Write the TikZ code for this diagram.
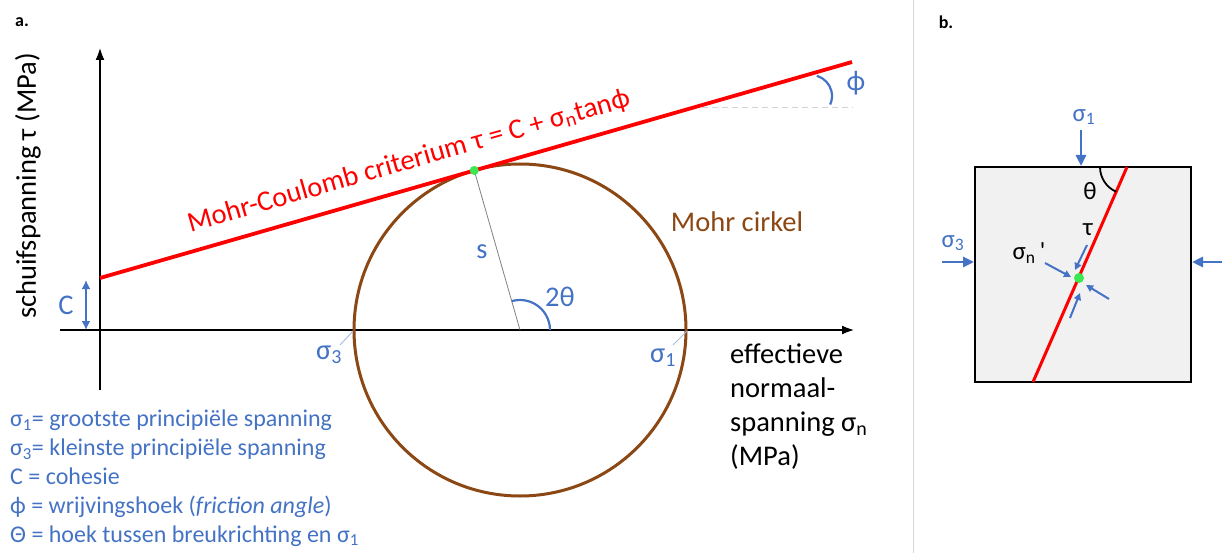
\documentclass[tikz,border=0pt]{standalone}
\usepackage{fontspec}
\setmainfont{Carlito}
\usetikzlibrary{arrows.meta,calc}
\definecolor{myblue}{RGB}{68,114,196}
\definecolor{lightblue}{RGB}{170,190,228}
\definecolor{mybrown}{RGB}{140,72,20}
\definecolor{boxgray}{RGB}{241,241,241}
\definecolor{divgray}{RGB}{215,215,215}
\definecolor{mygreen}{RGB}{60,232,80}
\newcommand\sbs[1]{\textsubscript{#1}}
\begin{document}
\begin{tikzpicture}[x=1pt,y=1pt,
  big/.style={font=\fontsize{28.5}{34}\selectfont},
  mid/.style={font=\fontsize{25}{30}\selectfont},
  axis/.style={line width=2.8,-{Latex[length=13,width=9]}},
  bluearr/.style={myblue,line width=2,-{Triangle[length=7,width=7]}},
  sigarr/.style={myblue,line width=2.8,-{Triangle[length=11,width=10]}},
  lbl/.style={inner sep=0}]
\useasboundingbox (0,0) rectangle (1222,-553);
% panel labels and divider
\node[font=\bfseries\fontsize{18}{20}\selectfont] (la) at (22,-22) {a.};
\node[font=\bfseries\fontsize{18}{20}\selectfont] (lb) at (946,-22) {b.};
\coordinate (dtop) at (913,0); \coordinate (dbot) at (913,-553);
\draw[divgray,line width=1] (dtop) -- (dbot);
% axes
\coordinate (O) at (100,-330);
\coordinate (ytop) at (100,-47); \coordinate (ybot) at (100,-390);
\coordinate (xl) at (60,-330); \coordinate (xr) at (855,-330);
\draw[axis] (ybot) -- (ytop);
\draw[axis] (xl) -- (xr);
\node[big,rotate=90] (ylab) at (28,-186) {schuifspanning τ (MPa)};
\node[big,anchor=north west,align=left,inner sep=0] (xlab) at (730,-344)
  {effectieve\\normaal-\\spanning σ\sbs{n}\\(MPa)};
% Mohr circle
\coordinate (M) at (520,-330);
\draw[mybrown,line width=3] (M) circle[radius=166];
\node[big,text=mybrown] (mc) at (737,-222) {Mohr cirkel};
% failure envelope
\coordinate (P0) at (100,-278); \coordinate (P1) at (852,-62);
\draw[red,line width=3.8] (P0) -- (P1);
\node[big,text=red,rotate=16,anchor=base,inner sep=0] (mcl) at (411,-169)
  {Mohr-Coulomb criterium τ = C + σ\sbs{n}tanϕ};
% tangent radius
\coordinate (T) at ($(M)+(106:166)$);
\draw[gray,line width=0.8] (M) -- (T);
\node[circle,fill=mygreen,inner sep=0,minimum size=9] (Tdot) at (T) {};
\draw[myblue,line width=2.2] ($(M)+(0:30)$) arc[start angle=0,end angle=106,radius=30];
\node[big,text=myblue] (twoth) at (560,-297) {2θ};
\node[big,text=myblue] (s) at (482,-252) {s};
% cohesion
\coordinate (c1) at (86,-280); \coordinate (c2) at (86,-330);
\draw[myblue,line width=2.2,{Latex[length=9,width=9]}-{Latex[length=9,width=9]}] (c1) -- (c2);
\node[big,text=myblue] (C) at (66,-305) {C};
% sigma labels
\node[big,text=myblue] (s3) at (329,-355) {σ\sbs{3}};
\node[big,text=myblue] (s1) at (663,-358) {σ\sbs{1}};
\coordinate (s3a) at (340,-345); \coordinate (s3b) at (353,-331);
\coordinate (s1a) at (673,-345); \coordinate (s1b) at (687,-331);
\draw[lightblue,line width=1] (s3a) -- (s3b);
\draw[lightblue,line width=1] (s1a) -- (s1b);
% phi angle
\coordinate (d1) at (702,-108); \coordinate (d2) at (853,-108);
\draw[gray!35,line width=1,dash pattern=on 6pt off 4pt] (d1) -- (d2);
\coordinate (pc) at (811,-96);
\draw[myblue,line width=2.2] ($(pc)+(74:21)$) arc[start angle=74,end angle=-24,radius=21];
\node[big,text=myblue] (phi) at (856,-83) {ϕ};
% legend
\node[anchor=north west,align=left,inner sep=0,text=myblue,font=\fontsize{24}{28.8}\selectfont] (leg) at (10,-410)
  {σ\sbs{1}= grootste principiële spanning\\
   σ\sbs{3}= kleinste principiële spanning\\
   C = cohesie\\
   ϕ = wrijvingshoek (\textit{friction angle})\\
   Θ = hoek tussen breukrichting en σ\sbs{1}};
% ---------- panel b
\node[draw,fill=boxgray,line width=1.8,minimum width=216,minimum height=215,inner sep=0] (box) at (1083,-274.5) {};
\coordinate (F1) at (1127,-167); \coordinate (F2) at (1033,-382);
\draw[red,line width=3] (F1) -- (F2);
\draw[line width=1.8] ($(F1)+(180:27)$) arc[start angle=180,end angle=246.4,radius=27];
\node[mid] (th) at (1090,-191) {θ};
\node[circle,fill=mygreen,inner sep=0,minimum size=10] (G) at (1079,-278) {};
% sigma arrows
\coordinate (a1s) at (1081,-130); \coordinate (a1e) at (1081,-166);
\draw[sigarr] (a1s) -- (a1e);
\node[mid,text=myblue] (bs1) at (1084,-117) {σ\sbs{1}};
\coordinate (a3s) at (942,-262); \coordinate (a3e) at (974,-262);
\draw[sigarr] (a3s) -- (a3e);
\node[mid,text=myblue] (bs3) at (953,-243) {σ\sbs{3}};
\coordinate (a4s) at (1224,-262); \coordinate (a4e) at (1192,-262);
\draw[sigarr] (a4s) -- (a4e);
% tau and sigma_n' arrows
\node[mid] (tau) at (1088,-230) {τ};
\node[mid] (sn) at (1029,-253) {σ\sbs{n}\,\textquotesingle};
\coordinate (t1) at (1087,-245); \coordinate (t2) at (1075,-270);
\draw[bluearr] (t1) -- (t2);
\coordinate (n1) at (1045,-263); \coordinate (n2) at (1071,-277);
\draw[bluearr] (n1) -- (n2);
\coordinate (n3) at (1109,-299); \coordinate (n4) at (1086,-285);
\draw[bluearr] (n3) -- (n4);
\coordinate (t3) at (1070,-318); \coordinate (t4) at (1080,-293);
\draw[bluearr] (t3) -- (t4);
\end{tikzpicture}
\end{document}
